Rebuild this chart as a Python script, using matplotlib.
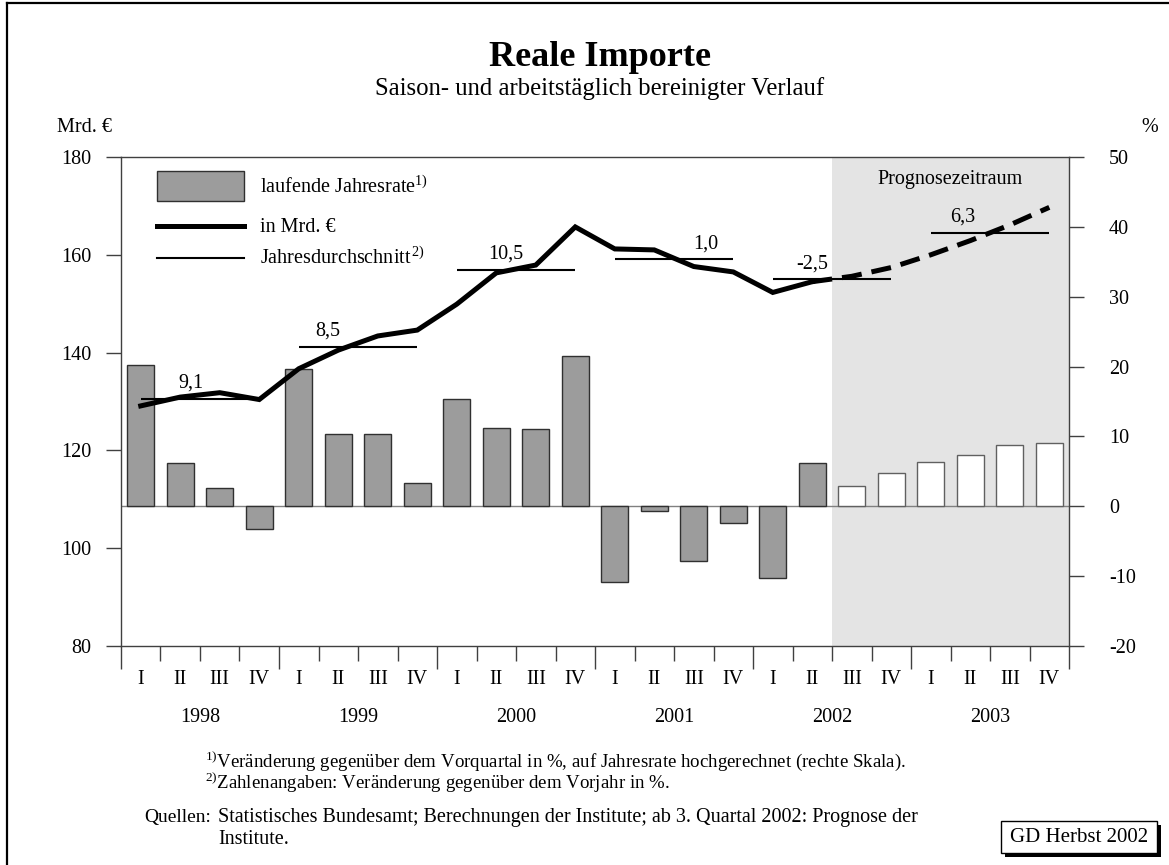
import matplotlib.pyplot as plt
from matplotlib.patches import Rectangle
from matplotlib.lines import Line2D

plt.rcParams['font.family'] = ['Liberation Serif', 'DejaVu Serif']
plt.rcParams['mathtext.fontset'] = 'custom'
plt.rcParams['mathtext.rm'] = 'Liberation Serif'
plt.rcParams['mathtext.it'] = 'Liberation Serif:italic'
plt.rcParams['mathtext.bf'] = 'Liberation Serif:bold'
plt.rcParams['axes.unicode_minus'] = False

# data, 1998 I .. 2003 IV
quarters = ['I', 'II', 'III', 'IV']
years = ['1998', '1999', '2000', '2001', '2002', '2003']

# laufende Jahresrate in % (right scale)
annual_rate = [20.2, 6.2, 2.6, -3.3,
               19.6, 10.4, 10.3, 3.4,
               15.4, 11.2, 11.0, 21.5,
               -10.9, -0.7, -7.8, -2.4,
               -10.2, 6.2, 2.9, 4.7,
               6.3, 7.4, 8.7, 9.1]

# Reale Importe in Mrd. EUR (left scale)
imports_bn = [129.1, 130.9, 131.8, 130.4,
              136.7, 140.5, 143.4, 144.6,
              149.9, 156.3, 157.9, 165.7,
              161.2, 161.0, 157.6, 156.5,
              152.3, 154.5, 155.6, 157.4,
              160.0, 162.9, 166.1, 169.7]

# Jahresdurchschnitt level and the change vs previous year
year_avg = [130.5, 141.2, 156.9, 159.1, 155.0, 164.5]
year_change = ['9,1', '8,5', '10,5', '1,0', '-2,5', '6,3']
label_x = [1.78, 5.23, 9.75, 14.81, 17.49, 21.32]   # where the numbers sit

n_hist = 18   # from 2002 III on it is forecast

x = [i + 0.5 for i in range(len(annual_rate))]

fig = plt.figure(figsize=(11.69, 8.65), dpi=100)
ax = fig.add_axes([0.1035, 0.2532, 0.8110, 0.5653])

# forecast area
ax.axvspan(n_hist, len(x), color='#e4e4e4', zorder=0, lw=0)
ax.text((n_hist + len(x)) / 2, 0.953, 'Prognosezeitraum', transform=ax.get_xaxis_transform(),
        ha='center', va='center', fontsize=14.5)

ax.axhline(0, color='#808080', lw=1, zorder=1)
ax.bar(x[:n_hist], annual_rate[:n_hist], width=0.68, color='#9c9c9c', edgecolor='#303030', lw=1, zorder=2)
ax.bar(x[n_hist:], annual_rate[n_hist:], width=0.68, color='white', edgecolor='#606060', lw=1, zorder=2)

ax.set_xlim(0, len(x))
ax.set_ylim(-20, 50)
ax.set_yticks(range(-20, 51, 10))
ax.set_xticks(range(0, len(x) + 1, 4))
ax.set_xticks(range(0, len(x) + 1), minor=True)
ax.tick_params(axis='x', which='major', direction='out', length=16.6, width=1, labelbottom=False, color='#404040')
ax.tick_params(axis='x', which='minor', direction='out', length=10.8, width=1, labelbottom=False, color='#404040')
for s in ax.spines.values():
    s.set_color('#404040')
    s.set_linewidth(1)

for i in range(len(x)):
    ax.text(x[i], -0.0695, quarters[i % 4], transform=ax.get_xaxis_transform(),
            ha='center', va='center', fontsize=14.5)
for j, yr in enumerate(years):
    ax.text(4 * j + 2, -0.147, yr, transform=ax.get_xaxis_transform(),
            ha='center', va='center', fontsize=14.5)

# level line on left scale
ax2 = ax.twinx()
ax2.set_ylim(80, 180)
ax2.set_yticks(range(80, 181, 20))
ax2.yaxis.tick_left()
ax2.tick_params(axis='y', direction='out', length=10.8, width=1, labelsize=14.5, pad=10.8, color='#404040')
for s in ax2.spines.values():
    s.set_visible(False)
# twinx puts the first axes' ticks on the left, move them back
ax.yaxis.tick_right()
ax.tick_params(axis='y', direction='out', length=10.8, width=1, labelsize=14.5, pad=18, color='#404040')

ax2.plot(x[:n_hist], imports_bn[:n_hist], color='black', lw=3.6, solid_joinstyle='miter', zorder=3)
ax2.plot(x[n_hist - 1:], imports_bn[n_hist - 1:], color='black', lw=3.6, dashes=(4, 2), zorder=3)

starts = [4 * j + 0.5 for j in range(len(years))]
ends = [4 * j + 3.5 for j in range(len(years))]
ax2.hlines(year_avg, starts, ends, color='black', lw=1.5, zorder=3)
for lx, lv, lt in zip(label_x, year_avg, year_change):
    ax2.annotate(lt, (lx, lv), xytext=(0, 8), textcoords='offset points',
                 ha='center', va='baseline', fontsize=14.5)

# legend drawn by hand
ax2.add_patch(Rectangle((0.038, 0.910), 0.0918, 0.0613, transform=ax2.transAxes,
                        facecolor='#9c9c9c', edgecolor='#303030', lw=1, clip_on=False))
ax2.plot([0.038, 0.1297], [0.859, 0.859], transform=ax2.transAxes, color='black', lw=3.6)
ax2.plot([0.038, 0.1297], [0.7935, 0.7935], transform=ax2.transAxes, color='black', lw=1.5)
ax2.text(0.1466, 0.927, r'laufende Jahresrate$^{1)}$', transform=ax2.transAxes, fontsize=14.5, va='baseline')
ax2.text(0.1466, 0.847, 'in Mrd. €', transform=ax2.transAxes, fontsize=14.5, va='baseline')
ax2.text(0.1466, 0.781, r'Jahresdurchschnitt$^{\,2)}$', transform=ax2.transAxes, fontsize=14.5, va='baseline')

# titles and axis units
fig.text(600 / 1169, 1 - 57 / 865, 'Reale Importe', ha='center', va='center', fontsize=26, fontweight='bold')
fig.text(600 / 1169, 1 - 89 / 865, 'Saison- und arbeitstäglich bereinigter Verlauf', ha='center', va='center', fontsize=17.8)
fig.text(57 / 1169, 1 - 127 / 865, 'Mrd. €', ha='left', va='center', fontsize=14.5)
fig.text(1150 / 1169, 1 - 127 / 865, '%', ha='center', va='center', fontsize=14.5)

# footnotes
fig.text(205 / 1169, 1 - 767 / 865,
         r'$^{1)}$Veränderung gegenüber dem Vorquartal in %, auf Jahresrate hochgerechnet (rechte Skala).',
         fontsize=13.6, va='baseline')
fig.text(205 / 1169, 1 - 789 / 865, r'$^{2)}$Zahlenangaben: Veränderung gegenüber dem Vorjahr in %.',
         fontsize=13.6, va='baseline')
fig.text(144 / 1169, 1 - 822 / 865, 'Quellen:', fontsize=14, va='baseline')
fig.text(218 / 1169, 1 - 822 / 865,
         'Statistisches Bundesamt; Berechnungen der Institute; ab 3. Quartal 2002: Prognose der',
         fontsize=14.5, va='baseline')
fig.text(218 / 1169, 1 - 844 / 865, 'Institute.', fontsize=14.5, va='baseline')

# GD box with shadow
fig.patches.append(Rectangle((1005 / 1169, 1 - 857 / 865), 156 / 1169, 32 / 865,
                             transform=fig.transFigure, facecolor='black', edgecolor='none'))
fig.patches.append(Rectangle((1001 / 1169, 1 - 853 / 865), 156 / 1169, 32 / 865,
                             transform=fig.transFigure, facecolor='white', edgecolor='black', lw=1))
fig.text(1079 / 1169, 1 - 837.5 / 865, 'GD Herbst 2002', ha='center', va='center', fontsize=15)

# outer frame (left and top clearly visible in the original)
fig.add_artist(Line2D([7 / 1169, 7 / 1169], [0, 1 - 3 / 865], transform=fig.transFigure, color='black', lw=1.6))
fig.add_artist(Line2D([7 / 1169, 1], [1 - 3 / 865, 1 - 3 / 865], transform=fig.transFigure, color='black', lw=1.6))

fig.savefig('out.png', dpi=100)
